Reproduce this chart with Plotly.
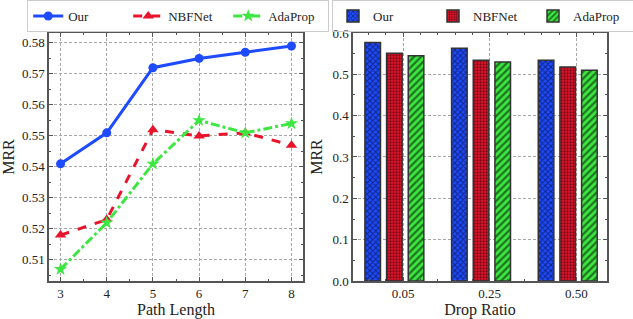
import plotly.graph_objects as go

# ---- data ----
path_lengths = [3, 4, 5, 6, 7, 8]
our_path = [0.541, 0.551, 0.572, 0.575, 0.577, 0.579]
nbf_path = [0.518, 0.523, 0.552, 0.550, 0.551, 0.547]
ada_path = [0.507, 0.522, 0.541, 0.555, 0.551, 0.554]

drop_labels = ["0.05", "0.25", "0.50"]
drop_pos = [0, 1, 2]
our_drop = [0.577, 0.563, 0.534]
nbf_drop = [0.551, 0.534, 0.518]
ada_drop = [0.545, 0.530, 0.510]

BLUE = "#1f4bff"
RED = "#e8142c"
GREEN = "#3de640"
FONT = '"Liberation Serif", "Times New Roman", serif'

fig = go.Figure()

# ---- left: lines ----
fig.add_trace(go.Scatter(x=path_lengths, y=our_path, name="Our", mode="lines+markers",
                         line=dict(color=BLUE, width=3), marker=dict(symbol="circle", size=9, color=BLUE),
                         xaxis="x", yaxis="y", legend="legend"))
fig.add_trace(go.Scatter(x=path_lengths, y=nbf_path, name="NBFNet", mode="lines+markers",
                         line=dict(color=RED, width=3, dash="dash"),
                         marker=dict(symbol="triangle-up", size=10, color=RED),
                         xaxis="x", yaxis="y", legend="legend"))
fig.add_trace(go.Scatter(x=path_lengths, y=ada_path, name="AdaProp", mode="lines+markers",
                         line=dict(color=GREEN, width=3, dash="dashdot"),
                         marker=dict(symbol="star", size=10, color=GREEN),
                         xaxis="x", yaxis="y", legend="legend"))

# ---- right: bars ----
bar_specs = [
    ("Our", our_drop, BLUE, "x", 4, -0.44),
    ("NBFNet", nbf_drop, RED, ".", 3, -0.19),
    ("AdaProp", ada_drop, GREEN, "/", 5, 0.06),
]
for name, vals, col, shape, psize, off in bar_specs:
    fig.add_trace(go.Bar(
        x=drop_pos, y=vals, name=name, width=0.18, offset=off,
        marker=dict(color=col, line=dict(color="#333333", width=1.5),
                    pattern=dict(shape=shape, fgcolor="black", bgcolor=col, size=psize,
                                 solidity=0.45, fillmode="overlay")),
        xaxis="x2", yaxis="y2", legend="legend2"))

axis_common = dict(showline=True, linecolor="#555555", linewidth=1.5, mirror="allticks",
                   ticks="inside", ticklen=4, tickcolor="#555555", tickwidth=1,
                   showgrid=True, gridcolor="#a8a8a8", griddash="3px,2px", gridwidth=0.8,
                   zeroline=False,
                   tickfont=dict(family=FONT, size=13, color="#222"),
                   minor=dict(ticks="inside", ticklen=2, tickcolor="#555555", showgrid=False))

fig.update_layout(
    width=633, height=319,
    margin=dict(l=0, r=0, t=0, b=0, autoexpand=False),
    paper_bgcolor="white", plot_bgcolor="white",
    font=dict(family=FONT, size=14, color="#222"),
    barmode="overlay",
    xaxis=dict(domain=[0.0774, 0.4787], range=[2.75, 8.25], tickvals=path_lengths,
               title=dict(text="Path Length", font=dict(family=FONT, size=16), standoff=4), **axis_common),
    yaxis=dict(domain=[0.1191, 0.8966], range=[0.5032, 0.5832], tickvals=[0.51, 0.52, 0.53, 0.54, 0.55, 0.56, 0.57, 0.58],
               tickformat=".2f",
               title=dict(text="MRR", font=dict(family=FONT, size=16), standoff=6), **axis_common),
    xaxis2=dict(domain=[0.5577, 0.9589], range=[-0.577, 2.353], tickvals=drop_pos, ticktext=drop_labels,
                anchor="y2",
                title=dict(text="Drop Ratio", font=dict(family=FONT, size=16), standoff=4), **axis_common),
    yaxis2=dict(domain=[0.1191, 0.8966], range=[0, 0.6], tickvals=[0, 0.1, 0.2, 0.3, 0.4, 0.5, 0.6],
                tickformat=".1f", anchor="x2",
                title=dict(text="MRR", font=dict(family=FONT, size=16), standoff=6), **axis_common),
    legend=dict(orientation="h", x=0.043, y=1.0, xanchor="left", yanchor="top",
                bordercolor="#cccccc", borderwidth=1, bgcolor="rgba(255,255,255,0)",
                entrywidth=55, font=dict(family=FONT, size=13)),
    legend2=dict(orientation="h", x=0.5245, y=1.0, xanchor="left", yanchor="top",
                 bordercolor="#cccccc", borderwidth=1, bgcolor="rgba(255,255,255,0)",
                 entrywidth=55, font=dict(family=FONT, size=13)),
)

fig.write_html("out.html", config={"displayModeBar": False},
               post_script="document.body.style.margin='0';")
